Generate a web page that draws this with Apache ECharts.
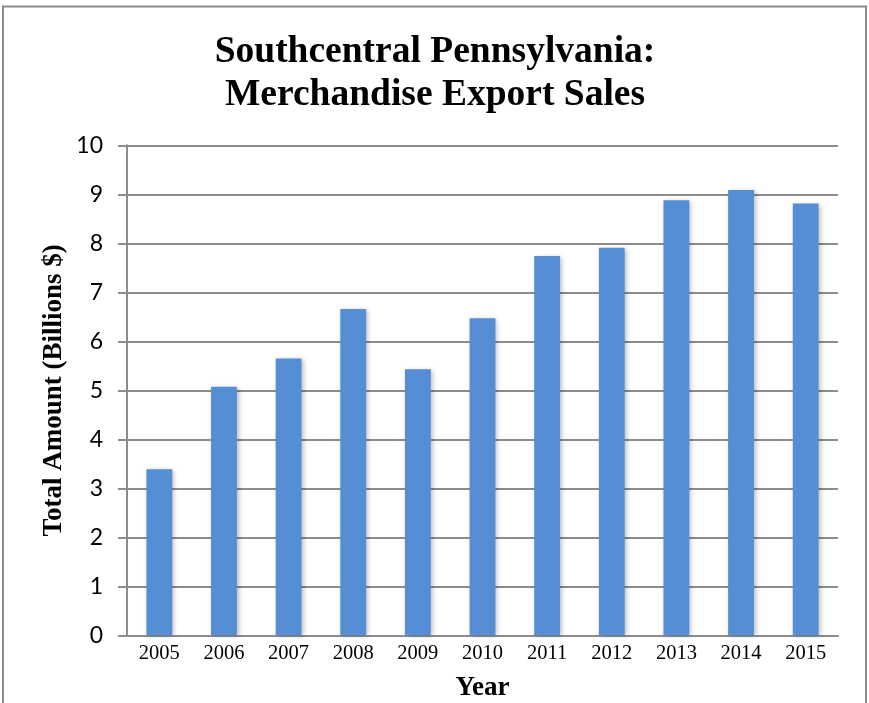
<!DOCTYPE html>
<html>
<head>
<meta charset="utf-8">
<script src="https://cdn.jsdelivr.net/npm/echarts@6/dist/echarts.min.js"></script>
<style>
  html, body { margin: 0; padding: 0; background: #fff; }
  #chart { width: 869px; height: 703px; }
</style>
</head>
<body>
<div id="chart"></div>
<script>
// Merchandise export sales, Southcentral Pennsylvania (billions of dollars)
const years = ['2005', '2006', '2007', '2008', '2009', '2010', '2011', '2012', '2013', '2014', '2015'];
const exportSales = [3.39, 5.07, 5.65, 6.66, 5.43, 6.47, 7.74, 7.91, 8.88, 9.09, 8.81];
const yTicks = [0, 1, 2, 3, 4, 5, 6, 7, 8, 9, 10];

const serif = '"Liberation Serif", "DejaVu Serif", serif';
const sans = 'Lato, "Liberation Sans", sans-serif';

const chart = echarts.init(document.getElementById('chart'));
chart.setOption({
  animation: false,
  backgroundColor: '#ffffff',
  graphic: [{
    type: 'rect',
    shape: { x: 3, y: 6.5, width: 863, height: 720 },
    style: { fill: 'none', stroke: '#8c8c8c', lineWidth: 2 }
  }],
  title: {
    text: 'Southcentral Pennsylvania:\nMerchandise Export Sales',
    left: 430,
    top: 26,
    textAlign: 'center',
    textStyle: {
      fontFamily: serif,
      fontWeight: 'bold',
      fontSize: 37.5,
      lineHeight: 43,
      color: '#000'
    }
  },
  grid: {
    left: 127, right: 31, top: 145.3, bottom: 67.7,
    containLabel: false,
    outerBoundsMode: 'none'
  },
  xAxis: {
    type: 'category',
    data: years,
    name: 'Year',
    nameLocation: 'middle',
    nameGap: 39,
    nameMoveOverlap: false,
    nameTextStyle: { fontFamily: serif, fontWeight: 'bold', fontSize: 27, color: '#000' },
    axisLine: { show: true, lineStyle: { color: '#8c8c8c', width: 2 } },
    axisTick: { show: false },
    axisLabel: { fontFamily: serif, fontSize: 20.5, color: '#000', margin: 8 }
  },
  yAxis: {
    type: 'value',
    min: yTicks[0],
    max: yTicks[yTicks.length - 1],
    interval: 1,
    name: 'Total Amount (Billions $)',
    nameLocation: 'middle',
    nameGap: 59,
    nameMoveOverlap: false,
    nameRotate: 90,
    nameTextStyle: { fontFamily: serif, fontWeight: 'bold', fontSize: 27, color: '#000' },
    axisLine: { show: true, lineStyle: { color: '#8c8c8c', width: 2 } },
    axisTick: { show: true, length: 9, lineStyle: { color: '#8c8c8c', width: 2 } },
    axisLabel: { fontFamily: sans, fontSize: 23, color: '#000', margin: 24 },
    splitLine: { show: true, lineStyle: { color: '#8c8c8c', width: 2 } }
  },
  series: [{
    type: 'bar',
    data: exportSales,
    barWidth: '40%',
    itemStyle: {
      color: '#558ED5',
      shadowColor: 'rgba(0,0,0,0.28)',
      shadowBlur: 5,
      shadowOffsetX: 2,
      shadowOffsetY: 1
    }
  }]
});
</script>
</body>
</html>
